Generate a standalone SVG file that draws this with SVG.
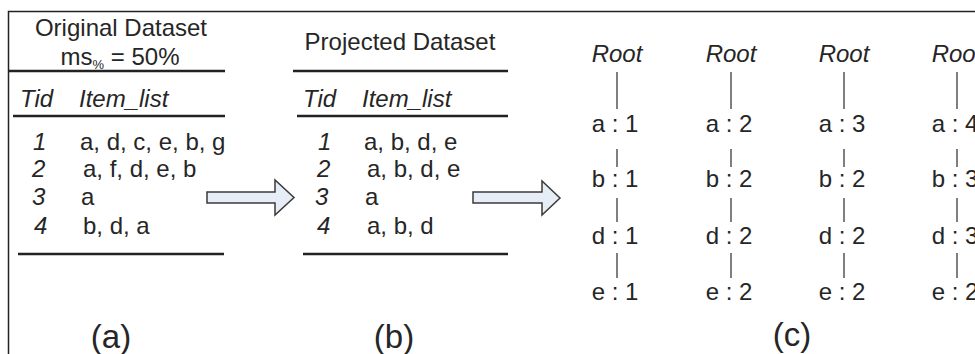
<svg xmlns="http://www.w3.org/2000/svg" width="975" height="354" viewBox="0 0 975 354">
<style>
text{font-family:"Liberation Sans",Arial,sans-serif;font-size:24px;fill:#262626}
.it{font-style:italic}
.lab{font-size:33px}
.mid{text-anchor:middle}
.rule{stroke:#222;stroke-width:2.5;fill:none}
.frame{stroke:#222;stroke-width:1.5;fill:none}
.edge{stroke:#555;stroke-width:1.5;fill:none}
.arrow{fill:#e6edf6;stroke:#3a3a3a;stroke-width:1.5;stroke-linejoin:miter}
</style>
<rect width="975" height="354" fill="#fff"/>
<path class="frame" d="M8.5,354 V11.5 H975"/>

<g id="panel-a">
<text class="mid" x="121" y="36">Original Dataset</text>
<text class="mid" x="120" y="65">ms<tspan font-size="13" dy="4">%</tspan><tspan dy="-4"> = 50%</tspan></text>
<line class="rule" x1="9" y1="71" x2="225" y2="71"/>
<text class="it" x="20" y="107">Tid</text>
<text class="it" x="79" y="107">Item_list</text>
<line class="rule" x1="13" y1="116" x2="225" y2="116"/>
<text class="it" x="33" y="150">1</text><text x="80" y="150">a, d, c, e, b, g</text>
<text class="it" x="32" y="177">2</text><text x="83" y="177">a, f, d, e, b</text>
<text class="it" x="32" y="205">3</text><text x="81" y="205">a</text>
<text class="it" x="34" y="234">4</text><text x="83" y="234">b, d, a</text>
<line class="rule" x1="18" y1="254" x2="224" y2="254"/>
<text class="lab mid" x="111" y="348">(a)</text>
</g>

<g id="panel-b">
<text class="mid" x="400" y="50">Projected Dataset</text>
<line class="rule" x1="293" y1="71" x2="508" y2="71"/>
<text class="it" x="303" y="107">Tid</text>
<text class="it" x="362" y="107">Item_list</text>
<line class="rule" x1="297" y1="116" x2="508" y2="116"/>
<text class="it" x="318" y="150">1</text><text x="364" y="150">a, b, d, e</text>
<text class="it" x="317" y="177">2</text><text x="367" y="177">a, b, d, e</text>
<text class="it" x="315" y="205">3</text><text x="365" y="205">a</text>
<text class="it" x="317" y="234">4</text><text x="367" y="234">a, b, d</text>
<line class="rule" x1="303" y1="254" x2="508" y2="254"/>
<text class="lab mid" x="394" y="348">(b)</text>
</g>

<g id="panel-c">
<g id="tree-1">
<text class="it mid" x="617" y="62">Root</text>
<text class="mid" x="615" y="132">a : 1</text>
<text class="mid" x="615" y="187">b : 1</text>
<text class="mid" x="615" y="244">d : 1</text>
<text class="mid" x="615" y="300">e : 1</text>
</g>
<g id="tree-2">
<text class="it mid" x="731" y="62">Root</text>
<text class="mid" x="729" y="132">a : 2</text>
<text class="mid" x="729" y="187">b : 2</text>
<text class="mid" x="729" y="244">d : 2</text>
<text class="mid" x="729" y="300">e : 2</text>
</g>
<g id="tree-3">
<text class="it mid" x="844" y="62">Root</text>
<text class="mid" x="842" y="132">a : 3</text>
<text class="mid" x="842" y="187">b : 2</text>
<text class="mid" x="842" y="244">d : 2</text>
<text class="mid" x="842" y="300">e : 2</text>
</g>
<g id="tree-4">
<text class="it mid" x="957" y="62">Root</text>
<text class="mid" x="955" y="132">a : 4</text>
<text class="mid" x="955" y="187">b : 3</text>
<text class="mid" x="955" y="244">d : 3</text>
<text class="mid" x="955" y="300">e : 2</text>
</g>
<text class="lab mid" x="792" y="346">(c)</text>
</g>

<g id="connectors">
<path class="arrow" d="M207,192 H275 V180 L294,197.5 L275,215 V203 H207 Z"/>
<path class="arrow" d="M473,192 H542 V181 L560,198 L542,215 V203 H473 Z"/>
<path class="edge" d="M617,72 V109 M617,149 V167 M617,198 V222 M617,253 V278"/>
<path class="edge" d="M731,72 V109 M731,149 V167 M731,198 V222 M731,253 V278"/>
<path class="edge" d="M844,72 V109 M844,149 V167 M844,198 V222 M844,253 V278"/>
<path class="edge" d="M957,72 V109 M957,149 V167 M957,198 V222 M957,253 V278"/>
</g>
</svg>
